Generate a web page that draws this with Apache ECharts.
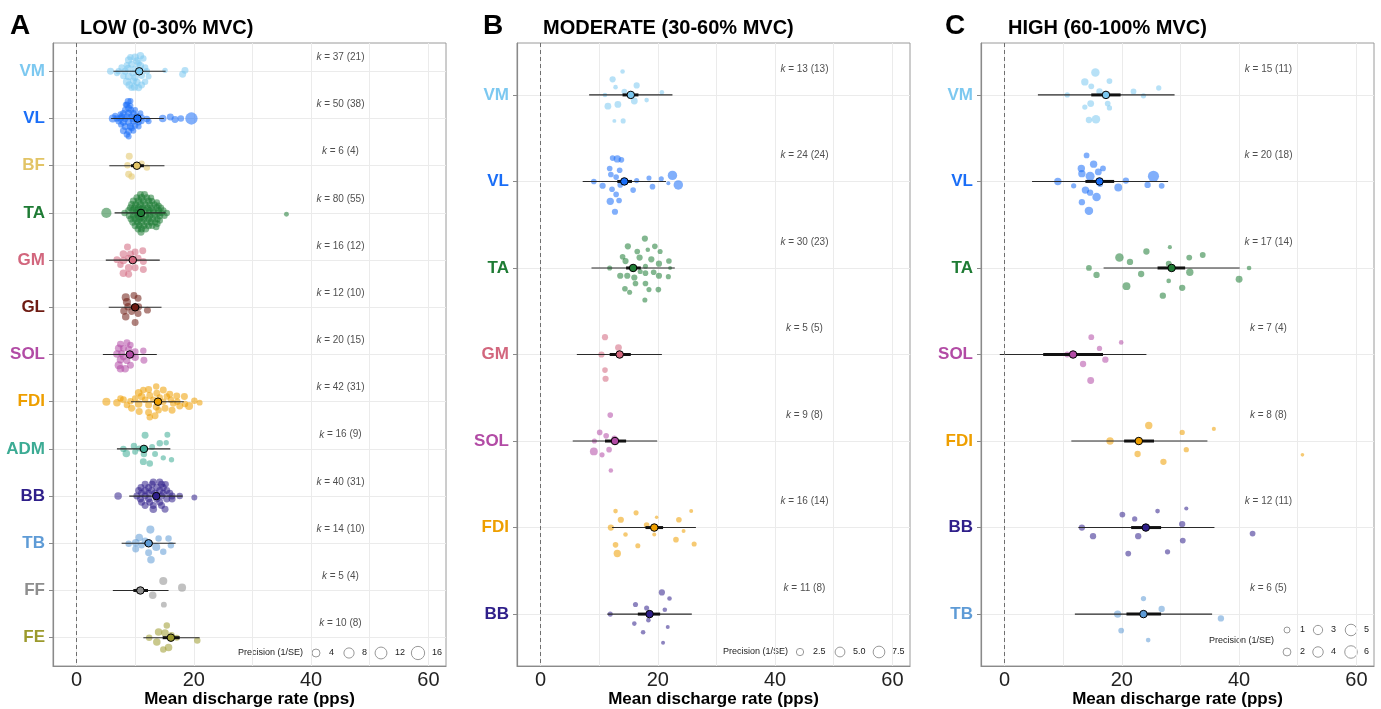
<!DOCTYPE html>
<html>
<head>
<meta charset="utf-8">
<script src="https://cdn.jsdelivr.net/npm/echarts@6/dist/echarts.min.js"></script>
<style>
  html, body { margin: 0; padding: 0; background: #fff; }
  #chart { width: 1381px; height: 709px; }
</style>
</head>
<body>
<div id="chart"></div>
<script>
// ---- data -------------------------------------------------------------
var lowMuscles = ['VM', 'VL', 'BF', 'TA', 'GM', 'GL', 'SOL', 'FDI', 'ADM', 'BB', 'TB', 'FF', 'FE']
var modMuscles = ['VM', 'VL', 'TA', 'GM', 'SOL', 'FDI', 'BB']
var highMuscles = ['VM', 'VL', 'TA', 'SOL', 'FDI', 'BB', 'TB']

// k = number of effects (number of studies)
var lowK = [37, 50, 6, 80, 16, 12, 20, 42, 16, 40, 14, 5, 10]
var lowKStudies = [21, 38, 4, 55, 12, 10, 15, 31, 9, 31, 10, 4, 8]
var modK = [13, 24, 30, 5, 9, 16, 11]
var modKStudies = [13, 24, 23, 5, 8, 14, 8]
var highK = [15, 20, 17, 7, 8, 12, 6]
var highKStudies = [11, 18, 14, 4, 8, 11, 5]

// pooled estimates: [mean, CI low, CI high, PI low, PI high]
var lowSummary = [
  [10.7, 10.1, 11.3, 6.3, 15.2], [10.4, 9.9, 10.9, 5.9, 14.9], [10.3, 9.3, 11.5, 5.6, 15.0],
  [11.0, 10.6, 11.4, 6.5, 15.2], [9.6, 9.0, 10.2, 5.0, 14.2], [10.0, 9.3, 10.7, 5.5, 14.5],
  [9.1, 8.5, 9.7, 4.5, 13.7], [13.9, 13.3, 14.5, 9.3, 18.3], [11.5, 10.8, 12.2, 6.9, 16.0],
  [13.6, 13.1, 14.1, 9.0, 18.1], [12.3, 11.6, 13.0, 7.7, 16.9], [10.9, 9.7, 12.2, 6.2, 15.7],
  [16.1, 14.7, 17.6, 11.4, 21.0]
]
var modSummary = [
  [15.4, 14.0, 16.7, 8.3, 22.5], [14.3, 13.1, 15.6, 7.2, 21.4], [15.8, 14.6, 17.1, 8.7, 22.9],
  [13.5, 11.8, 15.4, 6.2, 20.7], [12.7, 11.0, 14.6, 5.5, 19.9], [19.4, 17.9, 20.9, 12.2, 26.5],
  [18.6, 16.6, 20.4, 11.4, 25.8]
]
var highSummary = [
  [17.3, 14.8, 19.8, 5.7, 29.0], [16.2, 13.8, 18.7, 4.7, 27.9], [28.5, 26.1, 30.8, 16.9, 40.1],
  [11.7, 6.6, 16.8, -0.8, 24.2], [22.9, 20.4, 25.5, 11.4, 34.6], [24.1, 21.6, 26.7, 12.6, 35.8],
  [23.7, 20.8, 26.7, 12.0, 35.4]
]

// individual effects: [mean discharge rate, jitter offset, precision (1/SE)]
var lowVM = [[10.9,-0.33,3.3],[10.0,-0.30,3.3],[8.9,-0.24,3.3],[10.3,-0.22,3.3],[9.4,-0.15,2.6],[10.9,-0.12,3.3],[8.8,-0.06,3.3],[10.0,-0.05,2.6],[5.8,0,2.6],[7.2,0,2.0],[8.3,0,2.6],[9.6,0.04,2.6],[12.0,0,2.0],[15.1,-0.02,1.0],[18.5,-0.02,2.6],[18.1,0.06,2.6],[8.9,0.11,3.3],[10.0,0.13,2.6],[11.1,0.09,2.6],[8.6,0.22,4.1],[10.3,0.23,3.3],[11.1,0.29,2.6],[9.9,0.33,3.3],[9.0,0.29,3.3],[9.2,-0.30,2.0],[11.7,-0.08,2.0],[8.0,0.10,2.0],[10.6,0.35,2.6],[7.7,-0.08,2.0],[12.3,0.11,1.5],[11.4,-0.27,2.0],[9.7,0.20,2.6],[10.6,-0.17,2.0],[8.6,-0.13,2.0],[11.7,0.22,2.0],[6.9,0.04,1.5],[9.4,0.35,2.0]]
var lowVL = [[8.8,-0.36,2.6],[8.6,-0.29,2.0],[8.9,-0.22,2.6],[8.3,-0.18,2.0],[9.3,-0.18,2.0],[8.0,-0.11,2.0],[8.9,-0.11,2.6],[9.7,-0.11,2.0],[7.7,-0.04,2.6],[8.6,-0.04,2.6],[9.4,-0.04,2.6],[10.3,-0.06,2.0],[6.2,0,4.1],[7.5,0,2.6],[11.1,-0.02,2.0],[12.0,0.01,2.0],[8.0,0.08,2.6],[8.9,0.08,2.6],[9.7,0.06,2.6],[10.6,0.08,2.0],[8.3,0.17,2.6],[9.2,0.17,2.6],[10.0,0.15,2.0],[8.0,0.26,2.6],[8.9,0.27,2.6],[8.6,0.34,2.0],[14.7,0,3.3],[16.0,-0.03,2.6],[16.8,0.02,2.6],[17.8,0,2.0],[19.6,0,13.2],[12.3,0.06,1.5],[7.2,0.06,2.0],[9.4,0.20,2.0],[8.4,-0.29,1.5],[9.2,-0.27,1.5],[10.0,-0.18,1.5],[7.5,-0.09,1.5],[6.9,0,2.0],[10.9,-0.11,1.5],[8.3,0.01,2.0],[9.6,0.01,2.0],[11.1,0.06,1.5],[7.6,0.13,1.5],[8.9,0.38,1.5],[9.7,0.26,1.5],[10.6,0.17,1.5],[9.2,-0.37,1.5],[6.6,-0.06,1.5],[10.3,0.01,2.0]]
var lowBF = [[9.0,-0.20,2.6],[8.7,-0.01,2.0],[11.1,-0.04,2.0],[12.0,0.04,2.0],[8.9,0.18,2.6],[9.4,0.23,2.0]]
var lowTA = [[10.9,-0.39,2.6],[11.6,-0.39,2.6],[10.3,-0.32,2.6],[11.1,-0.32,3.3],[12.0,-0.32,2.6],[9.7,-0.25,2.6],[10.6,-0.25,3.3],[11.4,-0.25,2.6],[12.3,-0.25,2.6],[12.9,-0.25,2.0],[9.4,-0.18,2.6],[10.1,-0.18,2.6],[10.9,-0.18,3.3],[11.7,-0.18,2.6],[12.5,-0.18,2.6],[13.3,-0.18,2.0],[9.2,-0.11,2.6],[9.9,-0.11,2.6],[10.6,-0.11,3.3],[11.3,-0.11,2.6],[12.1,-0.11,2.6],[12.8,-0.11,2.6],[13.7,-0.11,2.6],[14.4,-0.11,2.0],[8.9,-0.05,2.6],[9.6,-0.05,2.6],[10.3,-0.05,3.3],[11.7,-0.05,2.6],[12.4,-0.05,2.6],[13.1,-0.05,2.6],[14.0,-0.05,2.6],[14.8,-0.05,2.0],[8.2,0,2.0],[15.4,0,2.0],[10.0,0,2.6],[10.6,0,2.6],[12.3,0,2.6],[13.1,0,2.6],[14.0,0,2.6],[14.5,0,2.0],[9.0,0.06,2.6],[9.7,0.06,2.6],[10.5,0.06,3.3],[11.8,0.06,2.6],[12.5,0.06,2.6],[13.4,0.06,2.6],[14.2,0.06,2.6],[15.0,0.06,2.0],[9.3,0.13,2.6],[10.0,0.13,2.6],[10.7,0.13,3.3],[11.5,0.13,2.6],[12.3,0.13,2.6],[13.0,0.13,2.6],[13.8,0.13,2.0],[9.6,0.20,2.6],[10.4,0.20,2.6],[11.1,0.20,3.3],[12.0,0.20,2.6],[12.7,0.20,2.6],[13.4,0.20,2.0],[10.0,0.27,2.6],[10.7,0.27,2.6],[11.5,0.27,2.6],[12.3,0.27,2.6],[12.9,0.27,2.0],[10.5,0.34,2.6],[11.1,0.34,2.6],[11.8,0.34,2.6],[11.0,0.41,2.6],[11.0,-0.08,2.6],[11.1,0.09,2.6],[14.0,-0.15,2.0],[14.2,0.16,2.0],[13.7,-0.22,2.0],[13.8,0.23,2.0],[13.6,0.30,2.0],[12.7,-0.32,2.0],[5.1,0,8.0],[35.8,0.03,0.7]]
var lowGM = [[8.7,-0.28,2.6],[10.0,-0.17,2.6],[11.3,-0.20,2.6],[8.0,-0.13,3.3],[9.2,-0.13,2.6],[6.9,-0.01,2.6],[8.0,0.01,3.3],[8.9,-0.04,2.6],[10.5,-0.04,2.6],[11.4,0.03,2.6],[10.0,0.16,2.6],[8.9,0.16,3.3],[8.0,0.28,3.3],[8.9,0.30,2.6],[11.4,0.20,2.6],[7.5,0.10,2.0]]
var lowGL = [[8.4,-0.21,4.1],[9.8,-0.25,2.6],[10.5,-0.19,2.6],[8.6,-0.11,4.1],[8.8,-0.01,3.3],[8.1,0.08,3.3],[10.6,-0.01,2.6],[12.1,0.06,2.6],[9.4,0.09,2.6],[8.4,0.20,3.3],[10.5,0.13,2.6],[10.0,0.32,2.6]]
var lowSOL = [[7.5,-0.22,2.6],[8.6,-0.25,2.6],[9.2,-0.20,2.0],[7.2,-0.13,3.3],[8.0,-0.13,2.6],[8.9,-0.11,2.6],[6.9,-0.01,3.3],[7.7,-0.02,2.6],[10.0,-0.06,2.6],[11.4,-0.08,2.0],[10.0,0.06,3.3],[11.5,0.12,2.6],[7.5,0.11,3.3],[8.6,0.13,2.6],[7.2,0.23,4.1],[8.3,0.30,3.3],[7.5,0.30,3.3],[9.2,0.23,2.6],[8.0,0.05,2.6],[9.4,0.01,2.0]]
var lowFDI = [[5.1,0,4.1],[6.9,0.02,3.3],[8.0,-0.04,2.6],[9.2,-0.01,2.0],[10.6,-0.19,3.3],[12.3,-0.26,2.6],[13.6,-0.32,2.0],[11.1,-0.11,3.3],[12.5,-0.13,2.6],[13.7,-0.18,2.6],[14.8,-0.25,2.6],[15.9,-0.16,2.6],[17.1,-0.12,2.6],[18.4,-0.11,2.6],[20.1,-0.02,2.0],[21.0,0.02,1.5],[19.2,0.09,4.1],[17.6,0.09,2.6],[16.3,0.18,2.6],[15.1,0.14,2.6],[13.6,0.11,2.6],[12.3,0.07,2.6],[10.6,0.05,3.3],[9.4,0.14,2.6],[10.7,0.21,2.6],[12.3,0.23,2.6],[13.4,0.30,2.6],[12.5,0.33,2.0],[14.8,0,2.0],[16.1,-0.04,2.0],[17.2,0,2.0],[11.7,-0.04,2.0],[10.0,-0.07,2.0],[8.6,0.07,2.0],[7.5,-0.07,2.0],[11.4,-0.25,2.0],[14.2,-0.09,2.0],[16.5,0.04,2.0],[18.5,0.05,2.0],[13.1,-0.04,2.0],[15.4,-0.11,2.0],[14.0,0.18,2.0]]
var lowADM = [[11.7,-0.29,2.6],[15.5,-0.30,1.5],[9.8,-0.06,2.0],[14.2,-0.12,2.0],[15.3,-0.13,1.0],[8.0,0,2.0],[8.5,0.10,3.3],[12.9,-0.04,1.5],[13.4,0.11,1.5],[10.0,0.06,1.5],[11.5,0.11,2.0],[14.8,0.19,1.0],[16.2,0.23,1.0],[11.4,0.27,2.6],[12.5,0.31,2.0],[10.7,-0.01,1.5]]
var lowBB = [[13.1,-0.30,2.6],[14.2,-0.30,2.6],[11.7,-0.25,2.6],[12.9,-0.25,2.6],[14.5,-0.25,2.6],[15.2,-0.25,2.0],[11.0,-0.18,2.6],[12.3,-0.18,2.6],[13.7,-0.18,2.6],[14.8,-0.18,2.6],[10.6,-0.12,2.6],[11.7,-0.12,2.6],[12.8,-0.12,2.6],[14.2,-0.12,2.6],[15.4,-0.12,2.6],[11.1,-0.06,2.6],[12.3,-0.06,2.6],[13.4,-0.06,2.6],[14.8,-0.06,2.6],[15.9,-0.06,2.6],[7.1,0,3.3],[10.3,0,2.6],[11.7,0,2.6],[14.5,0,2.6],[16.3,0,2.6],[17.6,0,2.0],[20.1,0.03,1.5],[10.9,0.06,2.6],[12.3,0.06,2.6],[13.7,0.06,2.6],[15.4,0.06,2.6],[16.3,0.06,2.6],[11.1,0.13,2.6],[12.5,0.13,2.6],[14.2,0.13,2.6],[11.7,0.20,2.6],[13.1,0.20,2.6],[14.5,0.20,2.6],[13.1,0.28,3.3],[15.1,0.28,2.6]]
var lowTB = [[12.6,-0.29,4.1],[10.7,-0.12,3.3],[14.0,-0.10,2.0],[15.7,-0.10,2.0],[10.1,-0.01,3.3],[11.7,-0.05,2.6],[13.6,0.08,4.1],[16.1,0.04,2.0],[10.1,0.12,2.6],[12.3,0.20,2.6],[14.8,0.18,2.0],[12.7,0.35,3.3],[11.1,0.04,2.0],[8.9,0.01,2.0]]
var lowFF = [[14.8,-0.20,4.1],[18.0,-0.06,4.1],[13.0,0.10,3.3],[14.9,0.30,1.5],[10.6,0,2.0]]
var lowFE = [[15.4,-0.26,2.0],[14.0,-0.12,3.3],[15.1,-0.10,3.3],[13.7,0.09,3.3],[12.4,0,2.0],[15.7,0.21,3.3],[14.8,0.25,2.0],[20.6,0.06,2.0],[17.1,0,1.5],[16.2,-0.05,2.0]]

var modVM = [[14.0,-0.27,0.74],[12.3,-0.18,1.66],[12.8,-0.09,0.74],[16.4,-0.11,1.66],[14.3,-0.04,1.3],[20.7,-0.03,0.74],[11.0,0,0.74],[16.0,0.07,2.1],[13.2,0.11,2.1],[11.5,0.13,2.1],[18.1,0.06,0.74],[12.6,0.30,0.5],[14.1,0.30,1.0]]
var modVL = [[12.3,-0.27,1.3],[13.1,-0.26,2.5],[13.8,-0.25,1.3],[11.8,-0.15,1.3],[13.5,-0.13,1.3],[12.0,-0.08,1.3],[12.9,-0.05,1.3],[9.1,0,1.3],[10.6,0.05,1.66],[13.6,0.04,1.3],[16.4,-0.01,1.0],[15.8,0.10,1.3],[12.2,0.09,1.3],[12.9,0.15,1.3],[18.5,-0.04,1.0],[19.1,0.06,1.3],[20.6,-0.03,1.0],[22.5,-0.07,4.6],[21.8,0.02,0.5],[23.5,0.04,4.6],[11.9,0.23,2.5],[13.4,0.22,1.3],[12.7,0.35,1.66],[14.5,0.01,1.0]]
var modTA = [[17.8,-0.34,1.66],[14.9,-0.25,1.66],[16.5,-0.19,1.3],[18.3,-0.21,0.74],[19.5,-0.25,1.3],[20.4,-0.19,1.0],[14.0,-0.13,1.3],[14.5,-0.08,1.66],[16.9,-0.12,1.66],[18.9,-0.10,1.66],[20.2,-0.05,1.66],[21.9,-0.08,1.3],[11.8,0,1.0],[17.9,-0.02,1.0],[22.1,0,0.5],[17.0,0.04,1.0],[13.6,0.09,1.66],[14.8,0.09,1.66],[16.0,0.11,1.66],[17.9,0.06,1.3],[19.3,0.05,1.3],[20.2,0.09,1.66],[21.8,0.10,1.0],[16.2,0.18,1.3],[17.9,0.18,1.3],[14.4,0.24,1.3],[15.2,0.28,1.0],[18.5,0.25,1.0],[20.1,0.25,1.3],[17.8,0.37,1.0]]
var modGM = [[11.0,-0.20,1.66],[13.3,-0.08,2.1],[10.4,0,1.66],[11.0,0.18,1.3],[11.1,0.28,1.66]]
var modSOL = [[11.9,-0.30,1.3],[10.1,-0.10,1.3],[11.2,-0.06,1.3],[12.6,-0.03,1.3],[9.2,0,1.0],[9.1,0.12,3.0],[10.5,0.16,1.0],[11.7,0.10,1.3],[12.0,0.34,0.74]]
var modFDI = [[12.8,-0.19,0.74],[13.7,-0.09,1.66],[16.3,-0.17,1.0],[19.8,-0.12,0.33],[23.6,-0.09,1.3],[25.7,-0.19,0.5],[12.0,0,1.66],[18.1,-0.03,1.3],[14.5,0.08,0.74],[19.4,0.08,0.5],[24.4,0.04,0.5],[23.1,0.14,1.3],[16.6,0.21,1.0],[12.8,0.20,1.3],[13.1,0.30,2.5],[26.2,0.19,1.0]]
var modBB = [[20.7,-0.25,1.66],[22.0,-0.18,0.74],[16.2,-0.11,1.0],[18.1,-0.07,1.0],[21.2,-0.05,0.74],[11.9,0,1.0],[16.0,0.11,0.74],[18.4,0.07,0.74],[21.7,0.15,0.5],[17.5,0.21,0.74],[20.9,0.33,0.5]]

var highVM = [[15.5,-0.26,2.4],[13.7,-0.15,1.7],[14.8,-0.10,0.9],[17.9,-0.16,0.9],[16.2,-0.04,1.15],[10.7,0,0.7],[22.0,-0.04,0.9],[26.3,-0.08,0.7],[23.7,0.01,0.7],[14.7,0.10,1.4],[13.7,0.14,0.7],[17.6,0.10,0.9],[17.9,0.15,0.7],[15.6,0.28,2.4],[14.4,0.29,1.15]]
var highVL = [[14.0,-0.30,0.9],[15.2,-0.20,1.7],[13.1,-0.15,1.7],[16.8,-0.15,0.9],[13.2,-0.09,1.7],[14.6,-0.06,2.75],[16.0,-0.11,1.4],[9.1,0,1.7],[16.3,0.03,0.9],[11.8,0.05,0.7],[13.8,0.10,1.7],[14.6,0.13,1.15],[15.7,0.18,2.4],[19.4,0.07,2.0],[20.7,-0.01,1.15],[25.4,-0.06,4.6],[24.4,0.04,1.15],[26.8,0.05,0.9],[13.2,0.24,1.15],[14.4,0.34,2.4]]
var highTA = [[28.2,-0.24,0.35],[24.2,-0.19,1.15],[19.6,-0.12,2.4],[21.4,-0.07,1.15],[33.8,-0.15,0.9],[31.5,-0.12,0.9],[14.4,0,0.9],[15.7,0.08,1.15],[23.3,0.07,1.15],[28.0,-0.05,0.9],[31.6,0.05,1.7],[41.7,0,0.5],[20.8,0.21,2.0],[28.0,0.15,0.5],[30.3,0.23,1.15],[27.0,0.32,1.15],[40.0,0.13,1.43]]
var highSOL = [[14.8,-0.20,0.9],[19.9,-0.14,0.5],[16.2,-0.07,0.7],[10.7,0,0.9],[17.2,0.06,1.15],[13.4,0.11,1.15],[14.7,0.30,1.43]]
var highFDI = [[24.6,-0.18,1.7],[30.3,-0.10,0.7],[35.7,-0.14,0.35],[18.0,0,1.7],[31.0,0.10,0.7],[22.7,0.15,1.15],[27.1,0.24,1.15],[50.8,0.16,0.23]]
var highBB = [[31.0,-0.22,0.35],[26.1,-0.19,0.5],[20.1,-0.15,0.9],[22.2,-0.10,0.7],[30.3,-0.04,1.15],[13.2,0,1.15],[15.1,0.10,1.15],[22.8,0.10,1.15],[42.3,0.07,0.9],[30.4,0.15,0.9],[21.1,0.30,0.9],[27.8,0.28,0.7]]
var highTB = [[23.7,-0.18,0.7],[26.8,-0.06,1.15],[19.3,0,1.7],[36.9,0.05,1.15],[19.9,0.19,0.9],[24.5,0.30,0.5]]

// ---- styling ------------------------------------------------------------
var muscleColors = {
  VM: '#7CC8F0', VL: '#1A6EF7', BF: '#E2C466', TA: '#1E7B34', GM: '#D2667D',
  GL: '#6E1B12', SOL: '#B24BA5', FDI: '#EE9F00', ADM: '#3CAB94', BB: '#2F1F8A',
  TB: '#5E9BD6', FF: '#8E8E8E', FE: '#9C9A2D'
}
var FONT = '"Liberation Sans", Arial, Helvetica, sans-serif'

// size(p) = a * sqrt(p) + b, per panel
var panels = [
  {
    muscles: lowMuscles, summary: lowSummary, k: lowK, kStudies: lowKStudies,
    studies: [lowVM, lowVL, lowBF, lowTA, lowGM, lowGL, lowSOL, lowFDI, lowADM, lowBB, lowTB, lowFF, lowFE],
    sizeA: 2.65, sizeB: 2.7, left: 53, letter: 'A', letterX: 10, title: 'LOW (0-30% MVC)', titleX: 80,
    legend: { textX: 238, textY: 653, items: [[4, 316, 653, 329], [8, 349, 653, 362], [12, 381, 653, 395], [16, 418, 653, 432]] }
  },
  {
    muscles: modMuscles, summary: modSummary, k: modK, kStudies: modKStudies,
    studies: [modVM, modVL, modTA, modGM, modSOL, modFDI, modBB],
    sizeA: 3.8, sizeB: 1.3, left: 517, letter: 'B', letterX: 483, title: 'MODERATE (30-60% MVC)', titleX: 543,
    legend: { textX: 723, textY: 652, items: [[2.5, 800, 652, 813], ['5.0', 840, 652, 853], [7.5, 879, 652, 892]] }
  },
  {
    muscles: highMuscles, summary: highSummary, k: highK, kStudies: highKStudies,
    studies: [highVM, highVL, highTA, highSOL, highFDI, highBB, highTB],
    sizeA: 4.5, sizeB: 1.5, left: 981, letter: 'C', letterX: 945, title: 'HIGH (60-100% MVC)', titleX: 1008,
    legend: { textX: 1209, textY: 641, items: [[1, 1287, 630, 1300], [3, 1318, 630, 1331], [5, 1351, 630, 1364], [2, 1287, 652, 1300], [4, 1318, 652, 1331], [6, 1351, 652, 1364]] }
  }
]

var PLOT_TOP = 43
var PLOT_H = 623
var PLOT_W = 393

function renderBars (params, api) {
  var y = api.value(0)
  var pa = api.coord([api.value(3), y])
  var pb = api.coord([api.value(4), y])
  var ca = api.coord([api.value(1), y])
  var cb = api.coord([api.value(2), y])
  return {
    type: 'group',
    children: [
      { type: 'line', shape: { x1: pa[0], y1: pa[1], x2: pb[0], y2: pb[1] }, style: { stroke: '#2a2a2a', lineWidth: 1.1 } },
      { type: 'line', shape: { x1: ca[0], y1: ca[1], x2: cb[0], y2: cb[1] }, style: { stroke: '#111', lineWidth: 3 } }
    ]
  }
}

var grids = []
var xAxes = []
var yAxes = []
var series = []
var graphics = []

panels.forEach(function (p, g) {
  var n = p.muscles.length
  var idx = p.muscles.map(function (m, i) { return i })
  var rich = {}
  p.muscles.forEach(function (m, i) {
    rich['m' + i] = { color: muscleColors[m], fontSize: 17, fontWeight: 'bold', fontFamily: FONT }
  })
  var size = function (prec) { return p.sizeA * Math.sqrt(prec) + p.sizeB }

  grids.push({
    left: p.left, top: PLOT_TOP, width: PLOT_W, height: PLOT_H,
    outerBoundsMode: 'none', containLabel: false,
    show: true, borderColor: '#9a9a9a', borderWidth: 1, backgroundColor: '#fff'
  })

  xAxes.push({
    type: 'value', gridIndex: g, min: -4, max: 63,
    name: 'Mean discharge rate (pps)', nameLocation: 'middle', nameGap: 25, nameMoveOverlap: false,
    nameTextStyle: { fontSize: 17, fontWeight: 'bold', color: '#000', fontFamily: FONT },
    axisLine: { show: true, onZero: false, lineStyle: { color: '#8a8a8a', width: 1.2 } },
    axisTick: { show: false, customValues: [0, 10, 20, 30, 40, 50, 60] },
    axisLabel: { customValues: [0, 20, 40, 60], fontSize: 20, color: '#222', margin: 4, fontFamily: FONT },
    splitLine: { show: true, lineStyle: { color: '#ebebeb', width: 1 } }
  })

  yAxes.push({
    type: 'value', gridIndex: g, min: -0.6, max: n - 0.4, inverse: true,
    axisLine: { show: true, onZero: false, lineStyle: { color: '#8a8a8a', width: 1.2 } },
    axisTick: { show: true, customValues: idx, length: 4, lineStyle: { color: '#8a8a8a' } },
    axisLabel: {
      customValues: idx, margin: 8, rich: rich,
      formatter: function (v) { var i = Math.round(v); return '{m' + i + '|' + p.muscles[i] + '}' }
    },
    splitLine: { show: true, lineStyle: { color: '#ebebeb', width: 1 } }
  })

  // zero reference line
  series.push({
    type: 'scatter', xAxisIndex: g, yAxisIndex: g, data: [], silent: true, z: 1,
    markLine: {
      silent: true, symbol: 'none', animation: false, label: { show: false },
      lineStyle: { color: '#6f6f6f', type: [4, 3], width: 1 },
      data: [{ xAxis: 0 }]
    }
  })

  // individual effects
  p.muscles.forEach(function (m, i) {
    series.push({
      type: 'scatter', xAxisIndex: g, yAxisIndex: g, z: 2, silent: true,
      data: p.studies[i].map(function (d) { return [d[0], i + d[1], d[2]] }),
      symbolSize: function (val) { return size(val[2]) },
      itemStyle: { color: muscleColors[m], opacity: 0.55 }
    })
  })

  // prediction & confidence intervals
  series.push({
    type: 'custom', xAxisIndex: g, yAxisIndex: g, z: 3, silent: true,
    renderItem: renderBars,
    encode: { y: 0, x: [1, 2, 3, 4] },
    data: p.summary.map(function (s, i) { return [i, s[1], s[2], s[3], s[4]] })
  })

  // pooled means
  series.push({
    type: 'scatter', xAxisIndex: g, yAxisIndex: g, z: 4, silent: true,
    symbolSize: 7.5,
    data: p.summary.map(function (s, i) {
      return { value: [s[0], i], itemStyle: { color: muscleColors[p.muscles[i]], borderColor: '#000', borderWidth: 1, opacity: 1 } }
    })
  })

  // k labels
  series.push({
    type: 'scatter', xAxisIndex: g, yAxisIndex: g, z: 5, silent: true, symbolSize: 0,
    data: p.k.map(function (k, i) { return [45, i - 0.3, k, p.kStudies[i]] }),
    label: {
      show: true, position: 'inside', fontSize: 10, color: '#222', fontFamily: FONT,
      formatter: function (pr) { return '{i|k} = ' + pr.value[2] + ' (' + pr.value[3] + ')' },
      rich: { i: { fontStyle: 'italic', fontSize: 10, color: '#222', fontFamily: FONT } }
    }
  })

  // panel letter and title
  graphics.push({ type: 'text', left: p.letterX, top: 12, style: { text: p.letter, font: 'bold 28px ' + FONT, fill: '#000' } })
  graphics.push({ type: 'text', left: p.titleX, top: 18, style: { text: p.title, font: 'bold 20px ' + FONT, fill: '#000' } })

  // size legend
  graphics.push({ type: 'text', x: p.legend.textX, y: p.legend.textY, style: { text: 'Precision (1/SE)', font: '9px ' + FONT, fill: '#222', verticalAlign: 'middle' } })
  p.legend.items.forEach(function (it) {
    var d = size(parseFloat(it[0]))
    graphics.push({ type: 'circle', shape: { cx: it[1], cy: it[2], r: d / 2 }, style: { fill: 'none', stroke: '#999', lineWidth: 1 } })
    graphics.push({ type: 'text', x: it[3], y: it[2], style: { text: String(it[0]), font: '9px ' + FONT, fill: '#222', verticalAlign: 'middle' } })
  })
})

var chart = echarts.init(document.getElementById('chart'), null, { renderer: 'canvas' })
chart.setOption({
  animation: false,
  backgroundColor: '#fff',
  textStyle: { fontFamily: FONT },
  grid: grids,
  xAxis: xAxes,
  yAxis: yAxes,
  series: series,
  graphic: graphics
})
</script>
</body>
</html>
